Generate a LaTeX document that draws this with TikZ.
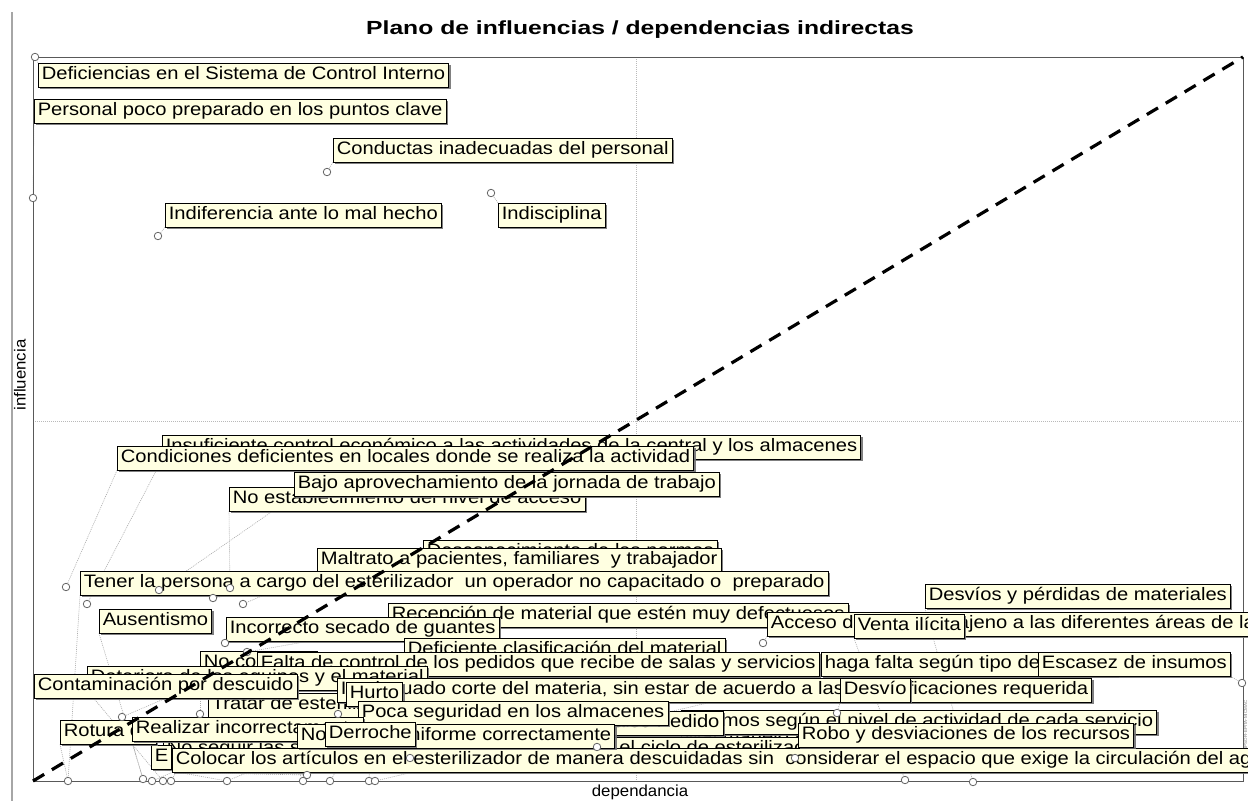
\documentclass[tikz,border=0pt]{standalone}
\usepackage{fontspec}
\setmainfont{Liberation Sans}
\newfontfamily\lblfont[FakeStretch=1.12]{Liberation Sans}
\newfontfamily\ttlfont[FakeStretch=1.3]{Liberation Sans}
\newfontfamily\axfont[FakeStretch=1.05]{Liberation Sans}
\usetikzlibrary{shadows}
\definecolor{cream}{HTML}{FFFFE1}
\pgfdeclarelayer{back}
\pgfdeclarelayer{lines}
\pgfsetlayers{back,lines,main}
\begin{document}
\begin{tikzpicture}[x=1pt,y=-1pt,
  lbl/.style={draw=black, line width=0.6pt, fill=cream, anchor=west,
    font=\lblfont\fontsize{18}{20}\selectfont, inner xsep=3.5pt, inner ysep=3pt,
    text height=13.5pt, text depth=4.5pt,
    drop shadow={shadow xshift=2pt, shadow yshift=-2pt, fill=black!55, opacity=0.9}},
  pt/.style={circle, draw=black!60, fill=white, line width=0.8pt, minimum size=7.5pt, inner sep=0pt},
  lnk/.style={draw=gray!65, line width=0.6pt, dash pattern=on 1pt off 1pt},
  frame/.style={draw=black!65, line width=1pt},
  grid/.style={draw=gray!55, line width=0.6pt, dash pattern=on 1pt off 1pt},
  diag/.style={draw=black, line width=3.2pt, dash pattern=on 13pt off 9pt},
  ttl/.style={font=\ttlfont\bfseries\fontsize{19}{22}\selectfont},
  axl/.style={font=\axfont\fontsize{16}{18}\selectfont}]
\begin{pgfonlayer}{back}
\fill[white] (0,0) rectangle (1248,801);
\end{pgfonlayer}
\useasboundingbox (0,0) rectangle (1248,801);

% frame and grid
\coordinate (O) at (33,781);
\coordinate (TR) at (1243,57);
\coordinate (TL) at (33,57);
\coordinate (BR) at (1243,781);
\coordinate (gx1) at (636,57);
\coordinate (gx2) at (636,781);
\coordinate (gy1) at (33,421);
\coordinate (gy2) at (1243,421);
\coordinate (ol1) at (12,12);
\coordinate (ol2) at (12,801);
\draw[draw=gray!70, line width=1.6pt] (ol1) -- (ol2);
\draw[grid] (gx1) -- (gx2);
\draw[grid] (gy1) -- (gy2);
\draw[frame] (TL) -- (TR) -- (BR) -- (O) -- cycle;

% titles
\node[ttl] (title) at (640,30) {Plano de influencias / dependencias indirectas};
\node[axl, rotate=90] (yl) at (20,375) {influencia};
\node[axl] (xl) at (640,792) {dependancia};
\node[font=\fontsize{4.5}{5}\selectfont, text=gray, rotate=90, inner sep=0pt] (copy) at (1245.5,728) {© LIPSOR-EPITA-MICMAC};

% labels, upper part
\node[lbl] (def) at (38,75) {Deficiencias en el Sistema de Control Interno};
\node[lbl] (per) at (34,111) {Personal poco preparado en los puntos clave};
\node[lbl] (con) at (333,150) {Conductas inadecuadas del personal};
\node[lbl] (ind) at (165,215) {Indiferencia ante lo mal hecho};
\node[lbl] (indis) at (498,215) {Indisciplina};

% labels, lower part (bottom to top)
\node[lbl] (ins) at (162,447) {Insuficiente control económico a las actividades de la central y los almacenes};
\node[lbl] (cond) at (117,458) {Condiciones deficientes en locales donde se realiza la actividad};
\node[lbl] (noest) at (229,499) {No establecimiento del nivel de acceso};
\node[lbl] (bajo) at (294,484) {Bajo aprovechamiento de la jornada de trabajo};
\node[lbl] (desc) at (423,552) {Desconocimiento de las normas};
\node[lbl] (malt) at (317,560) {Maltrato a pacientes, familiares\ \ y trabajador};
\node[lbl] (tener) at (80,583) {Tener la persona a cargo del esterilizador\ \ un operador no capacitado o\ \ preparado};
\node[lbl] (desvios) at (925,596) {Desvíos y pérdidas de materiales};
\node[lbl] (recep) at (388,615) {Recepción de material que estén muy defectuosos};
\node[lbl] (ausent) at (99,621) {Ausentismo};
\node[lbl] (incorr) at (226,629) {Incorrecto secado de guantes};
\node[lbl] (acceso) at (767,624) {Acceso del personal ajeno a las diferentes áreas de la central};
\node[lbl] (venta) at (854,626) {Venta ilícita};
\node[lbl] (defic) at (404,650) {Deficiente clasificación del material};
\node[lbl] (noco) at (200,663) {No controlar};
\node[lbl] (pedir) at (821,664) {haga falta según tipo de servicio};
\node[lbl] (escasez) at (1038,664) {Escasez de insumos};
\node[lbl] (falta) at (257,664) {Falta de control de los pedidos que recibe de salas y servicios};
\node[lbl] (deter) at (87,678) {Deterioro de los equipos y el material};
\node[lbl] (tratar) at (208,705) {Tratar de esterilizar};
\node[lbl] (contam) at (34,686) {Contaminación por descuido};
\node[lbl] (inad) at (337,690) {Inadecuado corte del materia, sin estar de acuerdo a las especificaciones requerida};
\node[lbl] (hurto) at (346,694) {Hurto};
\node[lbl] (desvio) at (840,690) {Desvío};
\node[lbl] (manejo) at (681,738) {Mal manejo y desvío};
\node[lbl] (asign) at (681,722) {insumos según el nivel de actividad de cada servicio};
\node[lbl] (falso) at (598,723) {Falso Pedido};
\node[lbl] (poca) at (358,713) {Poca seguridad en los almacenes};
\node[lbl] (nosegu) at (163,749) {No seguir las secuencias adecuadas durante todo el ciclo de esterilización};
\node[lbl] (ee) at (151,757) {E};
\node[lbl] (colocar) at (172,760) {Colocar los artículos en el esterilizador de manera descuidadas sin\ \ considerar el espacio que exige la circulación del agua};
\node[lbl] (rotura) at (60,732) {Rotura de};
\node[lbl] (realizar) at (132,729) {Realizar incorrectamente};
\node[lbl] (nouni) at (297,736) {No usar el uniforme correctamente};
\node[lbl] (derroche) at (325,734) {Derroche};
\node[lbl] (robo) at (798,735) {Robo y desviaciones de los recursos};

% points
\node[pt] (p1) at (35,57) {};
\node[pt] (p2) at (33,198) {};
\node[pt] (p3) at (327,172) {};
\node[pt] (p4) at (158,236) {};
\node[pt] (p5) at (491,193) {};
\node[pt] (p6) at (66,587) {};
\node[pt] (p7) at (87,604) {};
\node[pt] (p8) at (159,590) {};
\node[pt] (p9) at (213,598) {};
\node[pt] (p10) at (230,588) {};
\node[pt] (p11) at (243,604) {};
\node[pt] (p12) at (225,643) {};
\node[pt] (p13) at (247,652) {};
\node[pt] (p14) at (122,717) {};
\node[pt] (p15) at (200,714) {};
\node[pt] (p16) at (338,714) {};
\node[pt] (p17) at (410,758) {};
\node[pt] (p18) at (307,775) {};
\node[pt] (p19) at (597,747) {};
\node[pt] (p20) at (763,643) {};
\node[pt] (p21) at (837,713) {};
\node[pt] (p22) at (795,758) {};
\node[pt] (p23) at (1242,683) {};
\node[pt] (p24) at (905,780) {};
\node[pt] (p25) at (973,782) {};
\node[pt] (b1) at (68,781) {};
\node[pt] (b2) at (143,779) {};
\node[pt] (b3) at (152,781) {};
\node[pt] (b4) at (163,781) {};
\node[pt] (b5) at (171,781) {};
\node[pt] (b6) at (227,781) {};
\node[pt] (b7) at (303,781) {};
\node[pt] (b8) at (330,781) {};
\node[pt] (b9) at (369,781) {};
\node[pt] (b10) at (375,781) {};

% connectors
\begin{pgfonlayer}{lines}
\draw[lnk] (def.north west) -- (p1);
\draw[lnk] (per.south west) -- (p2);
\draw[lnk] (con.south west) -- (p3);
\draw[lnk] (ind.south west) -- (p4);
\draw[lnk] (indis.north west) -- (p5);
\draw[lnk] (ins.south west) -- (p7);
\draw[lnk] (cond.south west) -- (p6);
\draw[lnk] (noest.south west) -- (p10);
\draw[lnk] (bajo.south west) -- (p8);
\draw[lnk] (desc.south west) -- (p9);
\draw[lnk] (malt.south west) -- (p11);
\draw[lnk] (tener.south west) -- (b1);
\draw[lnk] (desvios.south west) -- (p25);
\draw[lnk] (recep.south west) -- (p13);
\draw[lnk] (ausent.south west) -- (b2);
\draw[lnk] (incorr.south west) -- (p12);
\draw[lnk] (acceso.south west) -- (p20);
\draw[lnk] (venta.south west) -- (p24);
\draw[lnk] (defic.south west) -- (b8);
\draw[lnk] (noco.south west) -- (p15);
\draw[lnk] (pedir.south west) -- (b10);
\draw[lnk] (escasez.south east) -- (p23);
\draw[lnk] (falta.south west) -- (b7);
\draw[lnk] (deter.south west) -- (b4);
\draw[lnk] (contam.south) -- (p14);
\draw[lnk] (tratar.south west) -- (b5);
\draw[lnk] (inad.south west) -- (b3);
\draw[lnk] (hurto.south west) -- (p16);
\draw[lnk] (desvio.south west) -- (p21);
\draw[lnk] (manejo.south west) -- (p19);
\draw[lnk] (asign.south west) -- (p22);
\draw[lnk] (falso.south west) -- (p19);
\draw[lnk] (poca.south west) -- (b6);
\draw[lnk] (nosegu.south west) -- (p18);
\draw[lnk] (ee.south) -- (b6);
\draw[lnk] (colocar.south west) -- (p18);
\draw[lnk] (rotura.south west) -- (b1);
\draw[lnk] (realizar.south west) -- (b2);
\draw[lnk] (nouni.south) -- (p17);
\draw[lnk] (derroche.south) -- (b9);
\draw[lnk] (robo.south west) -- (p22);
\end{pgfonlayer}

% diagonal
\draw[diag] (O) -- (TR);
\end{tikzpicture}
\end{document}
